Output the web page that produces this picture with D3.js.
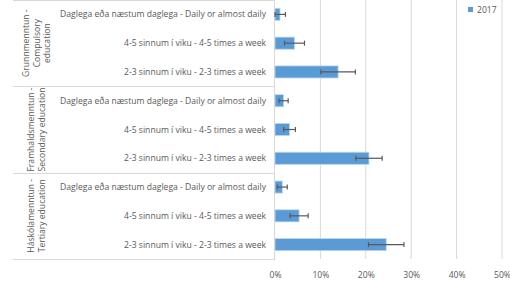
<!DOCTYPE html>
<html>
<head>
<meta charset="UTF-8">
<script src="https://d3js.org/d3.v7.min.js"></script>
<style>
  body { margin: 0; background: #fff; }
  text { font-family: "Open Sans", sans-serif; fill: #595959; }
</style>
</head>
<body>
<svg id="chart" width="510" height="282"></svg>
<script>
// groups and rows
var groups = [
  ["Grunnmenntun -", "Compulsory", "education"],
  ["Framhaldsmenntun -", "Secondary education"],
  ["Háskólamenntun -", "Tertiary education"]
];
var frequencies = [
  "Daglega eða næstum daglega - Daily or almost daily",
  "4-5 sinnum í viku - 4-5 times a week",
  "2-3 sinnum í viku - 2-3 times a week"
];
// 2017 values (%) per group, in frequency order
var values2017 = [1.1, 4.3, 13.9, 1.9, 3.2, 20.7, 1.6, 5.3, 24.5];
var errors2017 = [1.2, 2.2, 3.8, 1.0, 1.3, 2.9, 1.1, 2.0, 3.9];
var xTicks = [0, 10, 20, 30, 40, 50];
var seriesName = "2017";

var svg = d3.select("#chart");
var plotLeft = 275, plotRight = 502, plotTop = 0, plotBottom = 259;

var rows = [];
groups.forEach(function (g, gi) {
  frequencies.forEach(function (f, fi) {
    var i = gi * 3 + fi;
    rows.push({ key: gi + "-" + fi, label: f, v: values2017[i], e: errors2017[i] });
  });
});

var x = d3.scaleLinear().domain([0, 50]).range([plotLeft, plotRight]);
var y = d3.scaleBand().domain(rows.map(function (d) { return d.key; }))
  .range([plotTop, plotBottom]).paddingInner(0.58).paddingOuter(0.29);
var bandStep = (plotBottom - plotTop) / rows.length;

// gridlines
svg.append("g").selectAll("line").data(xTicks.slice(1)).join("line")
  .attr("x1", function (d) { return x(d); }).attr("x2", function (d) { return x(d); })
  .attr("y1", plotTop).attr("y2", plotBottom)
  .attr("stroke", "#d9d9d9").attr("stroke-width", 1);

// group separators
var sepY = d3.range(groups.length + 1).map(function (i) { return plotTop + i * 3 * bandStep; });
svg.append("g").selectAll("line").data(sepY).join("line")
  .attr("x1", 13).attr("x2", plotLeft)
  .attr("y1", function (d) { return Math.round(d) + 0.5; })
  .attr("y2", function (d) { return Math.round(d) + 0.5; })
  .attr("stroke", "#d9d9d9");
svg.append("line").attr("x1", plotLeft - 0.5).attr("x2", plotLeft - 0.5)
  .attr("y1", plotTop).attr("y2", plotBottom).attr("stroke", "#d9d9d9");

// bars
svg.append("g").selectAll("rect").data(rows).join("rect")
  .attr("x", plotLeft).attr("y", function (d) { return y(d.key); })
  .attr("width", function (d) { return x(d.v) - plotLeft; })
  .attr("height", y.bandwidth())
  .attr("fill", "#5b9bd5").attr("stroke", "#bdd7ee").attr("stroke-width", 0.8);

// error bars
var eb = svg.append("g").attr("stroke", "#595959").attr("stroke-width", 1.2);
rows.forEach(function (d) {
  var cy = y(d.key) + y.bandwidth() / 2;
  var x1 = x(Math.max(0, d.v - d.e)), x2 = x(d.v + d.e);
  eb.append("line").attr("x1", x1).attr("x2", x2).attr("y1", cy).attr("y2", cy);
  eb.append("line").attr("x1", x1).attr("x2", x1).attr("y1", cy - 2.5).attr("y2", cy + 2.5);
  eb.append("line").attr("x1", x2).attr("x2", x2).attr("y1", cy - 2.5).attr("y2", cy + 2.5);
});

// row labels
svg.append("g").selectAll("text").data(rows).join("text")
  .attr("x", 266).attr("y", function (d) { return y(d.key) + y.bandwidth() / 2; })
  .attr("dy", "0.35em").attr("text-anchor", "end")
  .style("font-size", "8.6px").text(function (d) { return d.label; });

// group labels
groups.forEach(function (g, gi) {
  var cy = plotTop + (gi * 3 + 1.5) * bandStep;
  var cx = 36.5;
  var lh = 10.5;
  var t = svg.append("text")
    .attr("transform", "translate(" + cx + "," + cy + ") rotate(-90)")
    .attr("text-anchor", "middle").style("font-size", "8.6px");
  g.forEach(function (line, li) {
    t.append("tspan").attr("x", 0)
      .attr("y", (li - (g.length - 1) / 2) * lh)
      .attr("dy", "0.35em").text(line);
  });
});

// x axis
var xAxis = d3.axisBottom(x).tickValues(xTicks).tickSize(0)
  .tickFormat(function (d) { return d + "%"; });
var ax = svg.append("g").attr("transform", "translate(0," + (plotBottom + 10) + ")").call(xAxis);
ax.select(".domain").remove();
ax.selectAll("text").style("font-size", "8.6px").style("font-family", "Open Sans, sans-serif")
  .attr("fill", "#595959");

// legend
var lg = svg.append("g").attr("transform", "translate(468,7)");
lg.append("rect").attr("width", 5).attr("height", 5).attr("fill", "#5b9bd5");
lg.append("text").attr("x", 9).attr("y", 2.5).attr("dy", "0.35em")
  .style("font-size", "8.6px").text(seriesName);
</script>
</body>
</html>
